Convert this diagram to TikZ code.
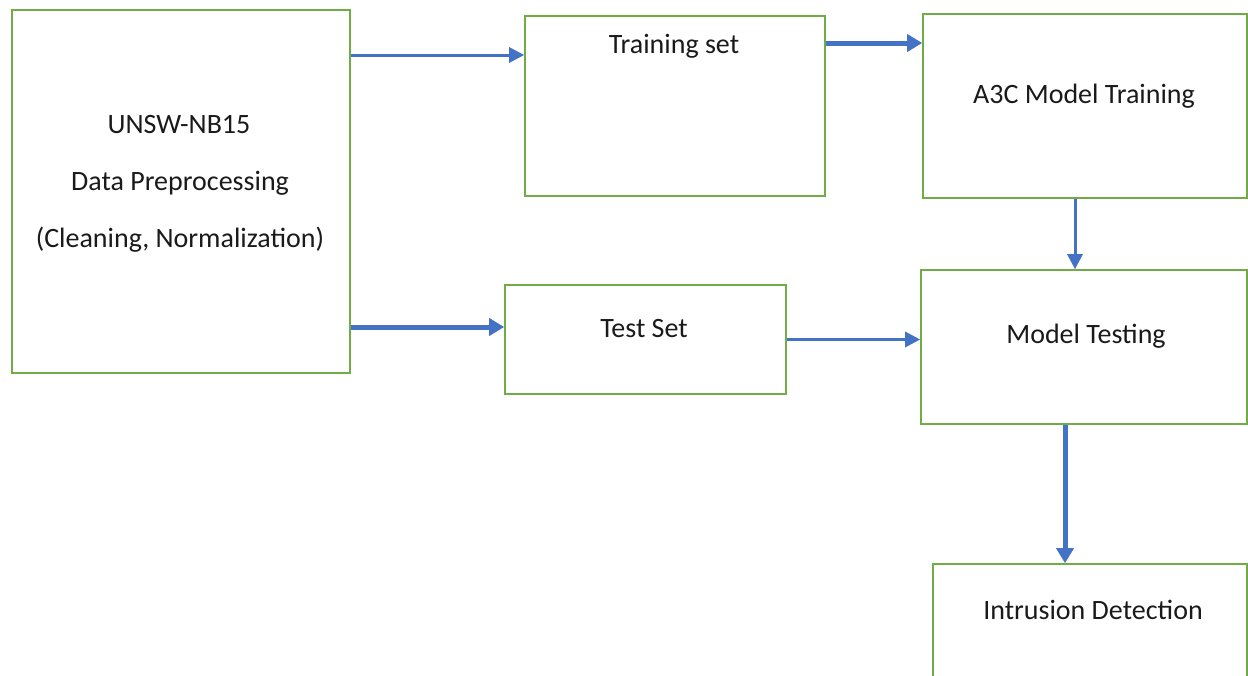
\documentclass[tikz,border=0pt]{standalone}
\usepackage{fontspec}
\setmainfont{Carlito}
\usetikzlibrary{arrows.meta}
\definecolor{boxgreen}{HTML}{70AD47}
\definecolor{arrblue}{HTML}{4472C4}
\definecolor{txt}{HTML}{1A1A1A}
\begin{document}
\begin{tikzpicture}[x=1pt,y=-1pt,
  box/.style={draw=boxgreen,line width=1.6pt,inner sep=0pt},
  lbl/.style={text=txt,font=\fontsize{28}{32}\selectfont,inner sep=0pt,anchor=center},
  arrthin/.style={draw=arrblue,line width=3pt,-{Triangle[length=15pt,width=15pt]}},
  arrthick/.style={draw=arrblue,line width=5pt,-{Triangle[length=15pt,width=17pt]}}]
\path[use as bounding box] (0,0) rectangle (1248,675);
\clip (0,0) rectangle (1248,675);
\node[box,minimum width=338pt,minimum height=363pt] (unsw) at (181,191.5) {};
\node[box,minimum width=300pt,minimum height=180pt] (train) at (675,106) {};
\node[box,minimum width=324pt,minimum height=184pt] (a3c) at (1085,106) {};
\node[box,minimum width=281pt,minimum height=109pt] (test) at (645.5,339.5) {};
\node[box,minimum width=326pt,minimum height=154pt] (mtest) at (1084,347) {};
\node[box,minimum width=314pt,minimum height=136pt] (intr) at (1090,632) {};
\node[lbl] (t1) at (179,125) {UNSW-NB15};
\node[lbl] (t2) at (180,183) {Data Preprocessing};
\node[lbl] (t3) at (180,240) {(Cleaning, Normalization)};
\node[lbl] (t4) at (674,46) {Training set};
\node[lbl] (t5) at (1084,96) {A3C Model Training};
\node[lbl] (t6) at (644,329) {Test Set};
\node[lbl] (t7) at (1086,336) {Model Testing};
\node[lbl] (t8) at (1093,610) {Intrusion Detection};
\draw[arrthin] (unsw.east |- 0,55) -- (train.west |- 0,55);
\draw[arrthick] (unsw.east |- 0,327) -- (test.west |- 0,327);
\draw[arrthick] (train.east |- 0,43) -- (a3c.west |- 0,43);
\draw[arrthin] (test.east) -- (mtest.west |- test.east);
\draw[arrthin] (a3c.south -| 1075,0) -- (mtest.north -| 1075,0);
\draw[arrthick] (mtest.south -| 1065,0) -- (intr.north -| 1065,0);
\end{tikzpicture}
\end{document}
